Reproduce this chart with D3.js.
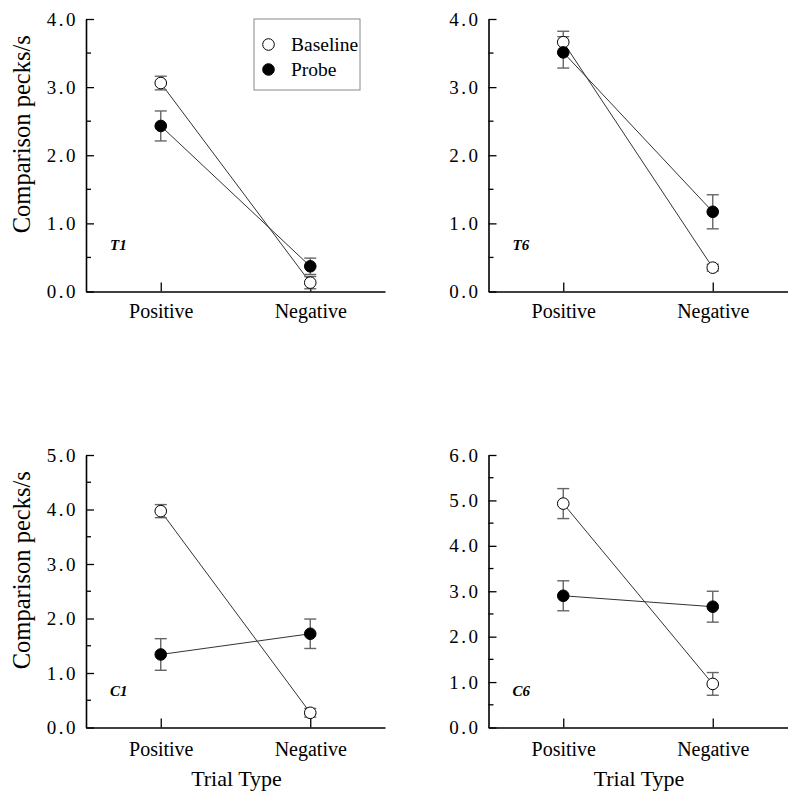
<!DOCTYPE html>
<html>
<head>
<meta charset="utf-8">
<script src="https://cdn.jsdelivr.net/npm/d3@7"></script>
<style>
  html, body { margin: 0; padding: 0; background: #fff; }
  svg { display: block; }
  svg text { font-family: "Liberation Serif", "Times New Roman", serif; }
</style>
</head>
<body>
<svg id="chart" width="800" height="804"></svg>
<script>
// ---- data ----
const categories = ["Positive", "Negative"];
const panelNames = ["T1", "T6", "C1", "C6"];
const yMax = [4, 4, 5, 6];
const baselineMeans = [[3.06, 0.13], [3.66, 0.35], [3.97, 0.27], [4.93, 0.96]];
const baselineErr   = [[0.10, 0.09], [0.16, 0.05], [0.12, 0.08], [0.33, 0.25]];
const probeMeans    = [[2.43, 0.37], [3.51, 1.17], [1.34, 1.72], [2.90, 2.66]];
const probeErr      = [[0.22, 0.12], [0.23, 0.25], [0.29, 0.27], [0.33, 0.34]];
const legendLabels = ["Baseline", "Probe"];
const yAxisTitle = "Comparison pecks/s";
const xAxisTitle = "Trial Type";

// ---- layout ----
const svg = d3.select("#chart");
const pw = 299, ph = 272.5;
const panelPos = [
  {x: 86, y: 19}, {x: 488.5, y: 19},
  {x: 86, y: 455}, {x: 488.5, y: 455}
];

panelPos.forEach((pos, i) => {
  const g = svg.append("g").attr("transform", `translate(${pos.x},${pos.y})`);
  const x = d3.scaleLinear().domain([0.5, 2.5]).range([0, pw]);
  const y = d3.scaleLinear().domain([0, yMax[i]]).range([ph, 0]);

  // minor ticks
  const minor = d3.range(0.5, yMax[i], 1);
  g.append("g").selectAll("line").data(minor).join("line")
    .attr("x1", 0).attr("x2", 5)
    .attr("y1", d => y(d)).attr("y2", d => y(d))
    .attr("stroke", "#000").attr("stroke-width", 1.3);

  // y axis
  const yAxis = d3.axisLeft(y).tickValues(d3.range(0, yMax[i] + 0.01, 1))
    .tickFormat(d3.format(".1f")).tickSizeInner(-8).tickSizeOuter(0).tickPadding(8);
  const ya = g.append("g").call(yAxis);
  ya.attr("font-family", null);
  ya.select(".domain").attr("stroke", "#000").attr("stroke-width", 1.6);
  ya.selectAll(".tick line").attr("stroke", "#000").attr("stroke-width", 1.3);
  ya.selectAll(".tick text").style("font-size", "19px").style("letter-spacing", "2.5px")
    .attr("fill", "#000");

  // x axis
  const xAxis = d3.axisBottom(x).tickValues([1, 2]).tickFormat(d => categories[d - 1])
    .tickSizeInner(-9).tickSizeOuter(0).tickPadding(i < 2 ? 12 : 14);
  const xa = g.append("g").attr("transform", `translate(0,${ph})`).call(xAxis);
  xa.attr("font-family", null);
  xa.select(".domain").attr("stroke", "#000").attr("stroke-width", 1.6);
  xa.selectAll(".tick line").attr("stroke", "#000").attr("stroke-width", 1.3);
  xa.selectAll(".tick text").style("font-size", "20px").attr("fill", "#000");

  const series = [
    {means: baselineMeans[i], errs: baselineErr[i], fill: "#fff"},
    {means: probeMeans[i], errs: probeErr[i], fill: "#000"}
  ];

  // connecting lines
  series.forEach(s => {
    g.append("path")
      .datum(s.means.map((m, k) => [k + 1, m]))
      .attr("d", d3.line().x(d => x(d[0])).y(d => y(d[1])))
      .attr("fill", "none").attr("stroke", "#333").attr("stroke-width", 1);
  });

  // error bars
  series.forEach(s => {
    s.means.forEach((m, k) => {
      const cx = x(k + 1), e = s.errs[k];
      const eg = g.append("g").attr("stroke", "#666").attr("stroke-width", 1.4);
      eg.append("line").attr("x1", cx).attr("x2", cx).attr("y1", y(m - e)).attr("y2", y(m + e));
      [m - e, m + e].forEach(v => {
        eg.append("line").attr("x1", cx - 6).attr("x2", cx + 6).attr("y1", y(v)).attr("y2", y(v));
      });
    });
  });

  // markers
  series.forEach(s => {
    g.append("g").selectAll("circle").data(s.means).join("circle")
      .attr("cx", (d, k) => x(k + 1)).attr("cy", d => y(d)).attr("r", 5.8)
      .attr("fill", s.fill).attr("stroke", "#000").attr("stroke-width", 1);
  });

  // panel label
  g.append("text").attr("x", 24).attr("y", i < 2 ? 231 : 241)
    .style("font-size", "15px").attr("font-weight", "bold").attr("font-style", "italic")
    .attr("fill", "#000").text(panelNames[i]);

  // axis titles
  if (i % 2 === 0) {
    g.append("text")
      .attr("transform", `translate(-56,${ph / 2 - 21}) rotate(-90)`)
      .attr("text-anchor", "middle").style("font-size", "24.5px").attr("fill", "#000")
      .text(yAxisTitle);
  }
  if (i >= 2) {
    g.append("text").attr("x", pw / 2 + 1).attr("y", ph + 58)
      .attr("text-anchor", "middle").style("font-size", "22px").attr("fill", "#000")
      .text(xAxisTitle);
  }

  // legend in first panel
  if (i === 0) {
    const lg = g.append("g").attr("transform", `translate(${168},0)`);
    lg.append("rect").attr("x", 0).attr("y", 0).attr("width", 106).attr("height", 71)
      .attr("fill", "#fff").attr("stroke", "#888").attr("stroke-width", 1);
    legendLabels.forEach((lab, k) => {
      lg.append("circle").attr("cx", 14.5).attr("cy", 25.5 + k * 25).attr("r", 5.8)
        .attr("fill", k === 0 ? "#fff" : "#000").attr("stroke", "#000").attr("stroke-width", 1);
      lg.append("text").attr("x", 37).attr("y", 32 + k * 25)
        .style("font-size", "19.5px").attr("fill", "#000").text(lab);
    });
  }
});
</script>
</body>
</html>
